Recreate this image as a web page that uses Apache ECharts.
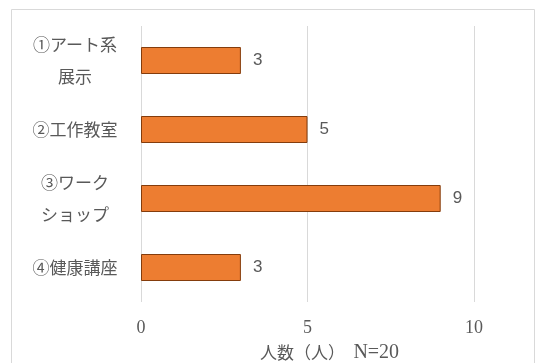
<!DOCTYPE html>
<html><head><meta charset="utf-8">
<script src="https://cdn.jsdelivr.net/npm/echarts@6/dist/echarts.min.js"></script>
<style>html,body{margin:0;padding:0;background:#fff}#c{width:545px;height:363px}</style>
</head><body><div id="c"></div>
<script>
const categories = ["①アート系\n展示", "②工作教室", "③ワーク\nショップ", "④健康講座"];
const values = [3, 5, 9, 3];
const xTicks = [0, 5, 10];
const axisNameUnit = "人数（人）";
const axisNameN = "N=20";

const chart = echarts.init(document.getElementById('c'), null, {renderer: 'canvas'});
chart.setOption({
  animation: false,
  backgroundColor: '#fff',
  graphic: [{type: 'rect', shape: {x: 11.5, y: 9.5, width: 523, height: 360}, style: {fill: 'none', stroke: '#d9d9d9', lineWidth: 1}, silent: true}],
  grid: {left: 141, right: 71, top: 26, bottom: 61, containLabel: false, outerBoundsMode: 'none'},
  xAxis: {
    type: 'value', min: 0, max: 10, interval: 5,
    axisLine: {show: false}, axisTick: {show: false},
    splitLine: {lineStyle: {color: '#d9d9d9', width: 1}},
    axisLabel: {color: '#595959', fontSize: 18, fontFamily: 'Liberation Serif, serif', margin: 17,
      formatter: v => xTicks.includes(v) ? String(v) : ''},
    name: '{a|' + axisNameUnit + '　}{b|' + axisNameN + '}', nameLocation: 'middle', nameGap: 41,
    nameTextStyle: {color: '#595959', padding: [0, 0, 0, 44],
      rich: {
        a: {fontSize: 17, color: '#595959', fontFamily: 'Noto Sans CJK JP'},
        b: {fontSize: 20, color: '#595959', fontFamily: 'Liberation Serif, serif'}
      }}
  },
  yAxis: {
    type: 'category', data: categories, inverse: true,
    axisLine: {show: false}, axisTick: {show: false},
    axisLabel: {color: '#595959', fontSize: 17, lineHeight: 32, align: 'center', margin: 66,
      fontFamily: 'Noto Sans CJK JP'}
  },
  series: [{
    type: 'bar', data: values, barWidth: 27,
    itemStyle: {color: '#ED7D31', borderColor: '#843C0C', borderWidth: 1},
    label: {show: true, position: 'right', distance: 12, color: '#595959', fontSize: 17, fontFamily: 'Liberation Sans, sans-serif'}
  }]
});
</script></body></html>
